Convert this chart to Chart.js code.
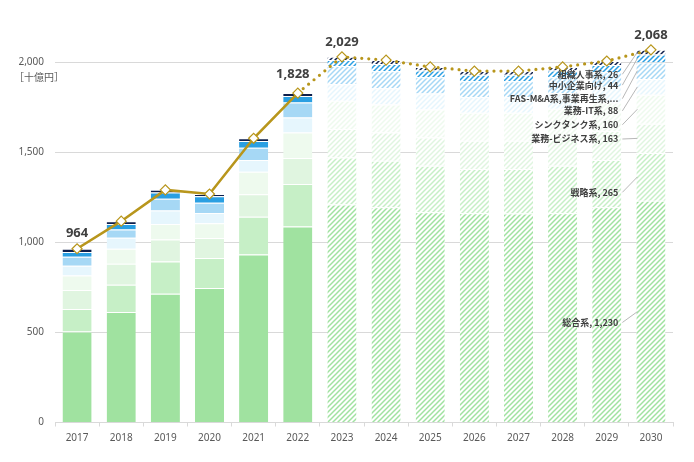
<!DOCTYPE html>
<html lang="ja">
<head>
<meta charset="UTF-8">
<title>コンサルティング市場規模</title>
<script src="https://cdn.jsdelivr.net/npm/chart.js"></script>
<style>
  body { margin: 0; background: #ffffff; }
  #wrap { width: 694px; height: 462px; position: relative; }
</style>
</head>
<body>
<div id="wrap"><canvas id="chart"></canvas></div>
<script>
// 年
const years = ['2017','2018','2019','2020','2021','2022','2023','2024','2025','2026','2027','2028','2029','2030'];
const firstForecast = 6; // 2023以降は予測（斜線）

// 系統別（十億円）
const sogo     = [505, 613, 715, 746, 932, 1087, 1209, 1194, 1167, 1161, 1160, 1161, 1195, 1230];
const senryaku = [125, 152, 179, 167, 210, 236, 262, 258, 258, 246, 246, 264, 262, 265];
const gyomuBiz = [105, 116, 121, 111, 125, 144, 157, 157, 157, 157, 158, 160, 160, 163];
const thinkTank= [80, 83, 87, 82, 125, 142, 157, 156, 155, 155, 155, 156, 158, 160];
const gyomuIT  = [55, 61, 74, 57, 65, 83, 92, 90, 88, 87, 86, 87, 88, 88];
const fas      = [50, 46, 65, 56, 68, 83, 101, 94, 90, 88, 88, 88, 80, 92];
const chusho   = [26, 31, 35, 36, 37, 37, 33, 40, 38, 36, 37, 37, 40, 44];
const soshiki  = [18, 15, 15, 13, 15, 16, 18, 22, 20, 20, 20, 20, 23, 26];

const seriesNames = ['総合系','戦略系','業務-ビジネス系','シンクタンク系','業務-IT系','FAS-M&A系,事業再生系','中小企業向け','組織人事系'];
const seriesData  = [sogo, senryaku, gyomuBiz, thinkTank, gyomuIT, fas, chusho, soshiki];
const seriesColors = ['#a0e2a0','#c6efc6','#e0f5e0','#eefaee','#e6f6fd','#a6d8f5','#2a9fe2','#0e1f4c'];

// 目盛
const yTicks = [0, 500, 1000, 1500, 2000];

// 2030年の右側ラベル
const endLabels = ['総合系, 1,230','戦略系, 265','業務-ビジネス系, 163','シンクタンク系, 160','業務-IT系, 88','FAS-M&A系,事業再生系,...','中小企業向け, 44','組織人事系, 26'];
// ラベルを置く高さ（目盛の値）
const endLabelAt = [555, 1277, 1573, 1652, 1729, 1797, 1872, 1932];

// 合計ラベルを出す年
const totalLabelIdx = [0, 5, 6, 13];

const totals = years.map((y, i) => seriesData.reduce((s, d) => s + d[i], 0));

const gold = '#b8961c';

function hatch(color) {
  const c = document.createElement('canvas');
  c.width = 5; c.height = 5;
  const g = c.getContext('2d');
  g.fillStyle = '#ffffff';
  g.fillRect(0, 0, 5, 5);
  g.strokeStyle = color;
  g.lineWidth = 1.5;
  g.beginPath();
  g.moveTo(0, 5); g.lineTo(5, 0);
  g.moveTo(-1, 1); g.lineTo(1, -1);
  g.moveTo(4, 6); g.lineTo(6, 4);
  g.stroke();
  return g.createPattern(c, 'repeat');
}

const barSets = seriesNames.map((name, k) => {
  const pat = hatch(seriesColors[k]);
  return {
    type: 'bar',
    label: name,
    data: seriesData[k],
    backgroundColor: ctx => ctx.dataIndex >= firstForecast ? pat : seriesColors[k],
    borderColor: '#ffffff',
    borderWidth: { top: 1, left: 0, right: 0, bottom: 0 },
    borderSkipped: false,
    stack: 's',
    order: 2,
    barPercentage: 0.66,
    categoryPercentage: 1.0
  };
});

const lineSet = {
  type: 'line',
  label: '合計',
  data: totals,
  borderColor: gold,
  borderWidth: 2.6,
  pointStyle: 'rectRot',
  pointRadius: 5,
  pointBackgroundColor: '#ffffff',
  pointBorderColor: gold,
  pointBorderWidth: 1.2,
  tension: 0,
  order: 0,
  segment: {
    borderDash: ctx => ctx.p0DataIndex >= 5 ? [0, 7] : undefined,
    borderCapStyle: ctx => ctx.p0DataIndex >= 5 ? 'round' : 'butt',
    borderWidth: ctx => ctx.p0DataIndex >= 5 ? 3.2 : 2.6
  }
};

const annotate = {
  id: 'annotate',
  afterDatasetsDraw(chart) {
    const g = chart.ctx;
    const ys = chart.scales.y;
    const lineMeta = chart.getDatasetMeta(seriesNames.length);

    // 合計値
    g.save();
    g.fillStyle = '#404040';
    g.font = 'bold 13px "Noto Sans", "Liberation Sans", sans-serif';
    g.textAlign = 'center';
    g.textBaseline = 'middle';
    totalLabelIdx.forEach(i => {
      const p = lineMeta.data[i];
      const up = i === 5 ? 19 : 15;
      const dx = i === 5 ? -5 : 0;
      g.fillText(totals[i].toLocaleString('en-US'), p.x + dx, p.y - up);
    });
    g.restore();

    // 2030年の内訳ラベル
    const last = years.length - 1;
    const bar = chart.getDatasetMeta(0).data[last];
    const barLeft = bar.x - bar.width / 2;
    const textRight = barLeft - 18;
    let cum = 0;
    g.save();
    g.font = 'bold 9px "Noto Sans CJK JP", "Noto Sans", sans-serif';
    g.textAlign = 'right';
    g.textBaseline = 'middle';
    seriesNames.forEach((n, k) => {
      const v = seriesData[k][last];
      const midY = ys.getPixelForValue(cum + v / 2);
      cum += v;
      const ly = ys.getPixelForValue(endLabelAt[k]);
      g.strokeStyle = '#a6a6a6';
      g.lineWidth = 0.8;
      g.beginPath();
      g.moveTo(textRight + 4, ly);
      g.lineTo(barLeft + 1, midY);
      g.stroke();
      g.fillStyle = '#404040';
      g.fillText(endLabels[k], textRight, ly);
    });
    g.restore();

    // 単位
    g.save();
    g.fillStyle = '#595959';
    g.font = '10px "Noto Sans CJK JP", sans-serif';
    g.textAlign = 'left';
    g.textBaseline = 'middle';
    g.fillText('［十億円］', 14, ys.getPixelForValue(2000) + 15);
    g.restore();
  }
};

new Chart(document.getElementById('chart'), {
  data: {
    labels: years,
    datasets: [...barSets, lineSet]
  },
  options: {
    responsive: true,
    maintainAspectRatio: false,
    animation: false,
    layout: { padding: { top: 16, right: 21, left: 0, bottom: 0 } },
    plugins: {
      legend: { display: false },
      tooltip: { enabled: false }
    },
    scales: {
      x: {
        stacked: true,
        offset: true,
        grid: { display: true, drawOnChartArea: false, offset: true, tickLength: 4, color: '#d9d9d9' },
        border: { color: '#d9d9d9' },
        ticks: { color: '#595959', font: { size: 10, family: '"Noto Sans", sans-serif' }, padding: 6 },
        afterFit(s) { s.height = 39.5; }
      },
      y: {
        stacked: true,
        min: 0,
        max: 2250,
        afterBuildTicks(s) { s.ticks = yTicks.map(v => ({ value: v })); },
        ticks: {
          autoSkip: false,
          color: '#595959',
          padding: 11,
          font: { size: 10, family: '"Noto Sans", sans-serif' },
          callback: v => v.toLocaleString('en-US')
        },
        grid: { color: '#d9d9d9', drawTicks: false },
        border: { display: false },
        afterFit(s) { s.width = 55; }
      }
    }
  },
  plugins: [annotate]
});
</script>
</body>
</html>
